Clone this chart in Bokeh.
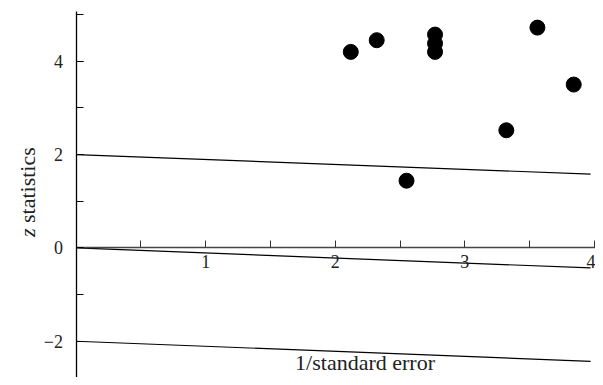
import math
from bokeh.plotting import figure
from bokeh.models import Label, FixedTicker, SingleIntervalTicker, CustomJSTickFormatter
from bokeh.embed import file_html
from bokeh.resources import INLINE

# ---- data ----
inv_se = [2.12, 2.32, 2.77, 2.77, 2.77, 3.56, 3.84, 3.32, 2.55]
z_stat = [4.20, 4.45, 4.57, 4.38, 4.20, 4.72, 3.50, 2.52, 1.44]

line_x = [0.0, 3.97]
center_line = [0.0, -0.43]
upper_line = [2.0, 1.58]
lower_line = [-2.0, -2.43]

x_major = [1, 2, 3, 4]
x_minor = [0.5, 1.5, 2.5, 3.5]

x_title = "1/standard error"
y_title_var = "z"
y_title_rest = "statistics"

FONT = "Liberation Serif"

p = figure(width=595, height=377, x_range=(-0.5826, 4.008), y_range=(-2.777, 5.301),
           output_backend="svg", toolbar_location=None,
           min_border_left=0, min_border_right=0, min_border_top=0, min_border_bottom=0)
p.outline_line_color = None
p.grid.visible = False
p.background_fill_color = "white"
p.border_fill_color = "white"

# lines
for ys in (upper_line, center_line, lower_line):
    p.line(line_x, ys, line_color="black", line_width=1.2)

# points
p.scatter(inv_se, z_stat, size=15, fill_color="black", line_color="black")

# x axis at y = 0
xa = p.xaxis[0]
xa.fixed_location = 0
xa.bounds = (0, 4.008)
xa.ticker = FixedTicker(ticks=x_major, minor_ticks=x_minor)
xa.major_tick_in = 7
xa.major_tick_out = 0
xa.minor_tick_in = 7
xa.minor_tick_out = 0
xa.axis_line_color = "#444444"
xa.axis_line_width = 1.6
xa.major_tick_line_color = "#333333"
xa.minor_tick_line_color = "#333333"
xa.major_label_standoff = 7
xa.major_label_text_font = FONT
xa.major_label_text_font_size = "18px"
xa.major_label_text_color = "#222222"

# y axis at x = 0
ya = p.yaxis[0]
ya.fixed_location = 0
ya.bounds = (-3, 5.065)
ya.ticker = SingleIntervalTicker(interval=2, num_minor_ticks=2)
ya.formatter = CustomJSTickFormatter(code="return tick < 0 ? '\u2212' + Math.abs(tick) : String(tick);")
ya.major_tick_in = 7
ya.major_tick_out = 0
ya.minor_tick_in = 7
ya.minor_tick_out = 0
ya.axis_line_color = "black"
ya.axis_line_width = 1.3
ya.major_tick_line_color = "black"
ya.minor_tick_line_color = "black"
ya.major_label_standoff = 13
ya.major_label_text_font = FONT
ya.major_label_text_font_size = "18px"
ya.major_label_text_color = "#222222"

# titles
p.add_layout(Label(x=2.23, y=-2.72, text=x_title, text_align="center",
                   text_baseline="bottom", text_font=FONT, text_font_size="22px",
                   text_color="#222222"))
p.add_layout(Label(x=-0.375, y=0.533, text=y_title_rest, angle=math.pi / 2,
                   text_align="left", text_baseline="alphabetic", text_font=FONT,
                   text_font_size="22px", text_color="#222222"))
p.add_layout(Label(x=-0.375, y=0.416, text=y_title_var, angle=math.pi / 2,
                   text_align="right", text_baseline="alphabetic", text_font=FONT,
                   text_font_style="italic", text_font_size="22px", text_color="#222222"))

open("out.html", "w").write(file_html(p, INLINE))
